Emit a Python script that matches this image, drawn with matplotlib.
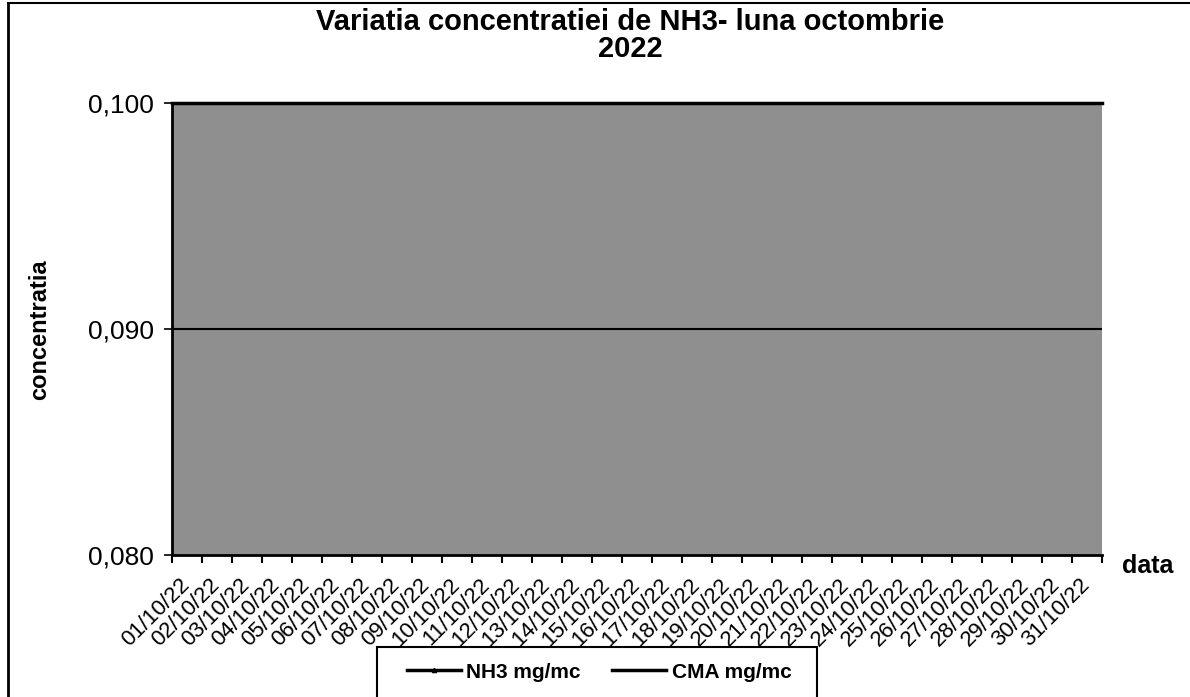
import numpy as np
import matplotlib.pyplot as plt
from matplotlib.lines import Line2D
from matplotlib.patches import Rectangle
from matplotlib.transforms import ScaledTranslation

plt.rcParams['font.family'] = ['Liberation Sans', 'DejaVu Sans']

# zilele lunii octombrie 2022
dates = [f"{d:02d}/10/22" for d in range(1, 32)]

# NH3 nu apare in intervalul graficului (fara valori vizibile)
nh3 = [np.nan] * 31
# CMA = 0,100 mg/mc (linia se suprapune pe marginea de sus)
cma = [0.100] * 31

y_ticks = [0.080, 0.090, 0.100]
y_labels = ["0,080", "0,090", "0,100"]

fig = plt.figure(figsize=(11.9, 6.97), dpi=100)
ax = fig.add_axes([172 / 1190, 1 - 555 / 697, (1102 - 172) / 1190, (555 - 103) / 697])

x = np.arange(len(dates))
ax.plot(x, nh3, color="black", lw=2, marker="^", ms=3, label="NH3 mg/mc", clip_on=False)
ax.plot(x, cma, color="black", lw=2, label="CMA mg/mc", clip_on=False)

ax.set_facecolor("#8f8f8f")
ax.set_xlim(-0.5, len(dates) - 0.5)
ax.set_ylim(0.080, 0.100)
ax.set_yticks(y_ticks)
ax.set_yticklabels(y_labels, fontsize=19)
ax.set_xticks(x)
ax.set_xticklabels(dates, rotation=45, ha="right", rotation_mode="anchor", fontsize=16)
ax.tick_params(axis="x", length=0, pad=14)
ax.set_xticks(np.arange(-0.5, len(dates), 1), minor=True)
ax.tick_params(axis="x", which="minor", length=6, width=1.5, direction="out")
ax.tick_params(axis="y", length=6, width=1.2, direction="out", pad=7)
ax.axhline(0.090, color="black", lw=1.5)
shift = ScaledTranslation(-8 / 100, 0, fig.dpi_scale_trans)
for lab in ax.get_xticklabels():
    lab.set_transform(lab.get_transform() + shift)

for s in ["top", "right"]:
    ax.spines[s].set_visible(False)
ax.spines["left"].set_linewidth(2)
ax.spines["bottom"].set_linewidth(2)
ax.plot([-0.5, len(dates) - 0.5], [0.100, 0.100], color="black", lw=2.5, clip_on=False)

fig.text(630 / 1190, 1 - 22 / 697, "Variatia concentratiei de NH3- luna octombrie",
         ha="center", va="center", fontsize=21, fontweight="bold")
fig.text(630 / 1190, 1 - 49 / 697, "2022",
         ha="center", va="center", fontsize=21, fontweight="bold")
fig.text(40 / 1190, 1 - 330 / 697, "concentratia", rotation=90, ha="center", va="center",
         fontsize=17, fontweight="bold")
fig.text(1148 / 1190, 1 - 566 / 697, "data", ha="center", va="center",
         fontsize=18, fontweight="bold")

handles = [Line2D([], [], color="black", lw=2.5, marker="^", ms=3),
           Line2D([], [], color="black", lw=2.5)]
leg = fig.legend(handles, ["NH3 mg/mc", "CMA mg/mc"], loc="center left",
                 bbox_to_anchor=(407 / 1190, 1 - 672 / 697), ncol=2, frameon=False,
                 handlelength=2.6, handletextpad=0.25, columnspacing=1.5,
                 borderpad=0, borderaxespad=0, prop={"weight": "bold", "size": 15})
fig.add_artist(Rectangle((377 / 1190, -0.01), (817 - 377) / 1190, 0.01 + 50 / 697,
                         transform=fig.transFigure, fill=False, edgecolor="black", lw=1.5))

# chenarul exterior al graficului
fig.add_artist(Line2D([8 / 1190, 8 / 1190], [0, 1 - 3 / 697], color="black", lw=2))
fig.add_artist(Line2D([8 / 1190, 1], [1 - 3 / 697, 1 - 3 / 697], color="black", lw=1.5))

fig.savefig("out.png", dpi=100)
